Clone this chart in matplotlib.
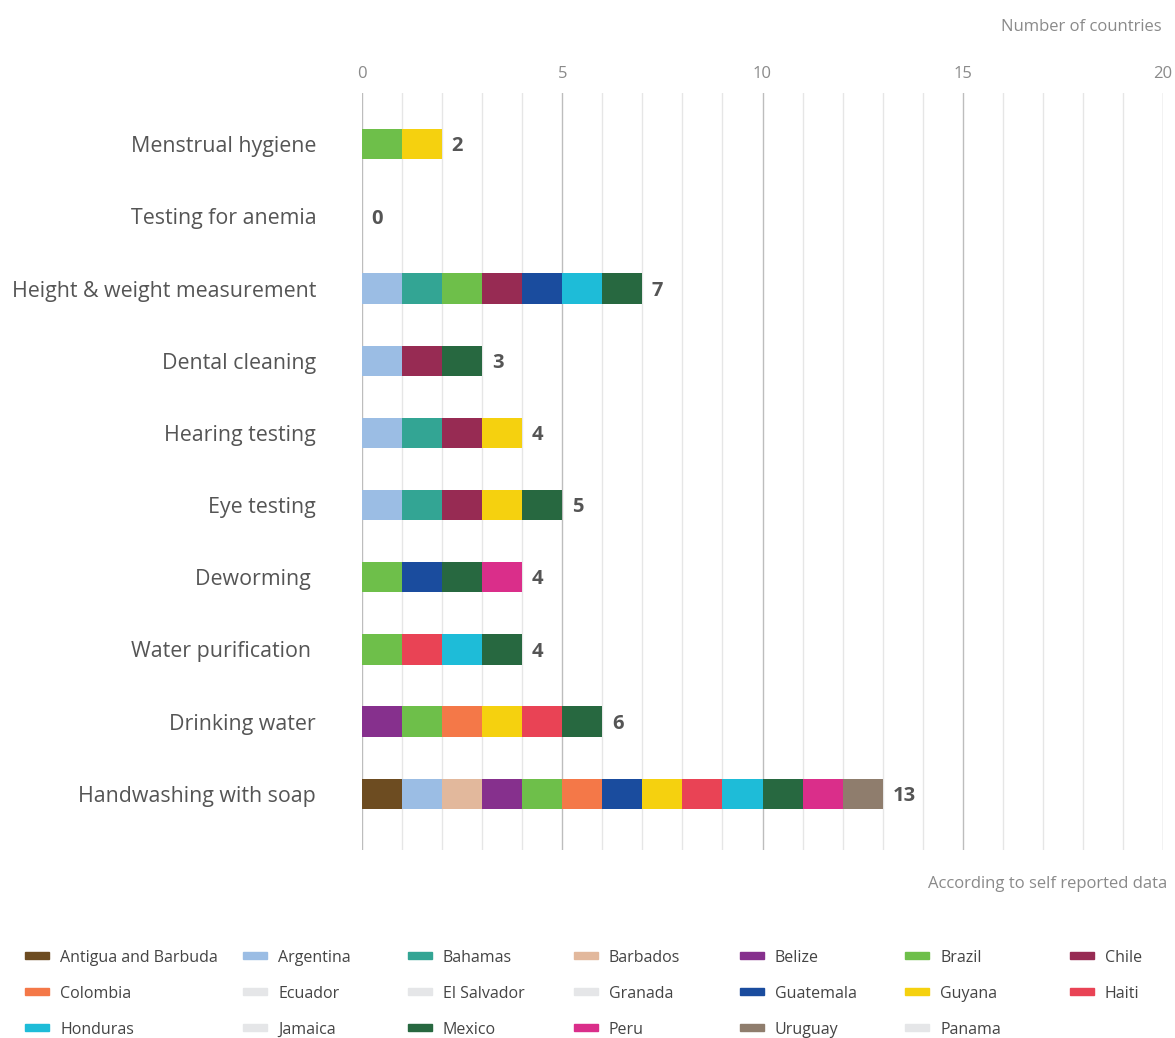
import matplotlib
matplotlib.use("Agg")
from matplotlib import pyplot as plt
from matplotlib.patches import Rectangle

plt.rcParams['font.family'] = ['Open Sans', 'DejaVu Sans']

categories = [
    "Menstrual hygiene",
    "Testing for anemia",
    "Height & weight measurement",
    "Dental cleaning",
    "Hearing testing",
    "Eye testing",
    "Deworming ",
    "Water purification ",
    "Drinking water",
    "Handwashing with soap",
]

countries = [
    "Antigua and Barbuda", "Argentina", "Bahamas", "Barbados", "Belize", "Brazil", "Chile",
    "Colombia", "Ecuador", "El Salvador", "Granada", "Guatemala", "Guyana", "Haiti",
    "Honduras", "Jamaica", "Mexico", "Peru", "Uruguay", "Panama",
]

country_colors = [
    "#6d4c21", "#9bbde4", "#33a594", "#e2b89c", "#86308d", "#6ebf4a", "#972b53",
    "#f47848", "#e5e6e8", "#e5e6e8", "#e5e6e8", "#1a4c9e", "#f5d10f", "#e94355",
    "#1ebcd8", "#e5e6e8", "#276840", "#da2e8a", "#8f7d6d", "#e5e6e8",
]

# which countries report each intervention
participants = [
    ["Brazil", "Guyana"],
    [],
    ["Argentina", "Bahamas", "Brazil", "Chile", "Guatemala", "Honduras", "Mexico"],
    ["Argentina", "Chile", "Mexico"],
    ["Argentina", "Bahamas", "Chile", "Guyana"],
    ["Argentina", "Bahamas", "Chile", "Guyana", "Mexico"],
    ["Brazil", "Guatemala", "Mexico", "Peru"],
    ["Brazil", "Haiti", "Honduras", "Mexico"],
    ["Belize", "Brazil", "Colombia", "Guyana", "Haiti", "Mexico"],
    ["Antigua and Barbuda", "Argentina", "Barbados", "Belize", "Brazil", "Colombia",
     "Guatemala", "Guyana", "Haiti", "Honduras", "Mexico", "Peru", "Uruguay"],
]

W, H = 1175, 1038
fig = plt.figure(figsize=(W / 100, H / 100), dpi=100)
ax = fig.add_axes([362 / W, 1 - 850 / H, (1163 - 362) / W, (850 - 93) / H])

# grid lines behind the bars
for v in range(0, 21):
    major = v % 5 == 0
    ax.axvline(v, color="#bdbdbd" if major else "#e6e6e6", lw=1.0, zorder=0)

for row, members in enumerate(participants):
    left = 0
    for name, col in zip(countries, country_colors):
        if name in members:
            ax.barh(row, 1, left=left, height=0.42, color=col, zorder=2)
            left += 1
    ax.text(left + 0.24, row + 0.03, str(len(members)), va="center", ha="left",
            fontsize=14.5, fontweight="bold", color="#555555")

ax.set_xlim(0, 20)
ax.set_ylim(9.78, -0.71)
ax.set_yticks(range(len(categories)))
ax.set_yticklabels(categories, fontsize=15.4, color="#555555")
ax.tick_params(axis="y", length=0, pad=33)
ax.xaxis.tick_top()
ax.set_xticks([0, 5, 10, 15, 20])
ax.tick_params(axis="x", length=0, pad=8, labelsize=12, labelcolor="#8a8a8a")
for s in ax.spines.values():
    s.set_visible(False)

fig.text(1162 / W, 1 - 27 / H, "Number of countries", ha="right", va="center",
         fontsize=12, color="#8a8a8a")
fig.text(1167 / W, 1 - 884 / H, "According to self reported data", ha="right", va="center",
         fontsize=12, color="#8a8a8a")

# legend, row-major with fixed columns
col_x = [25, 243, 408, 574, 740, 905, 1070]
row_y = [956, 992, 1028]
for i, (name, col) in enumerate(zip(countries, country_colors)):
    r, c = divmod(i, 7)
    x, y = col_x[c], row_y[r]
    fig.patches.append(Rectangle((x / W, 1 - (y + 3) / H), 24 / W, 7 / H,
                                 transform=fig.transFigure, color=col))
    fig.text((x + 35) / W, 1 - (y + 2) / H, name, ha="left", va="center",
             fontsize=11.5, color="#444444")

fig.savefig("out.png", dpi=100)
